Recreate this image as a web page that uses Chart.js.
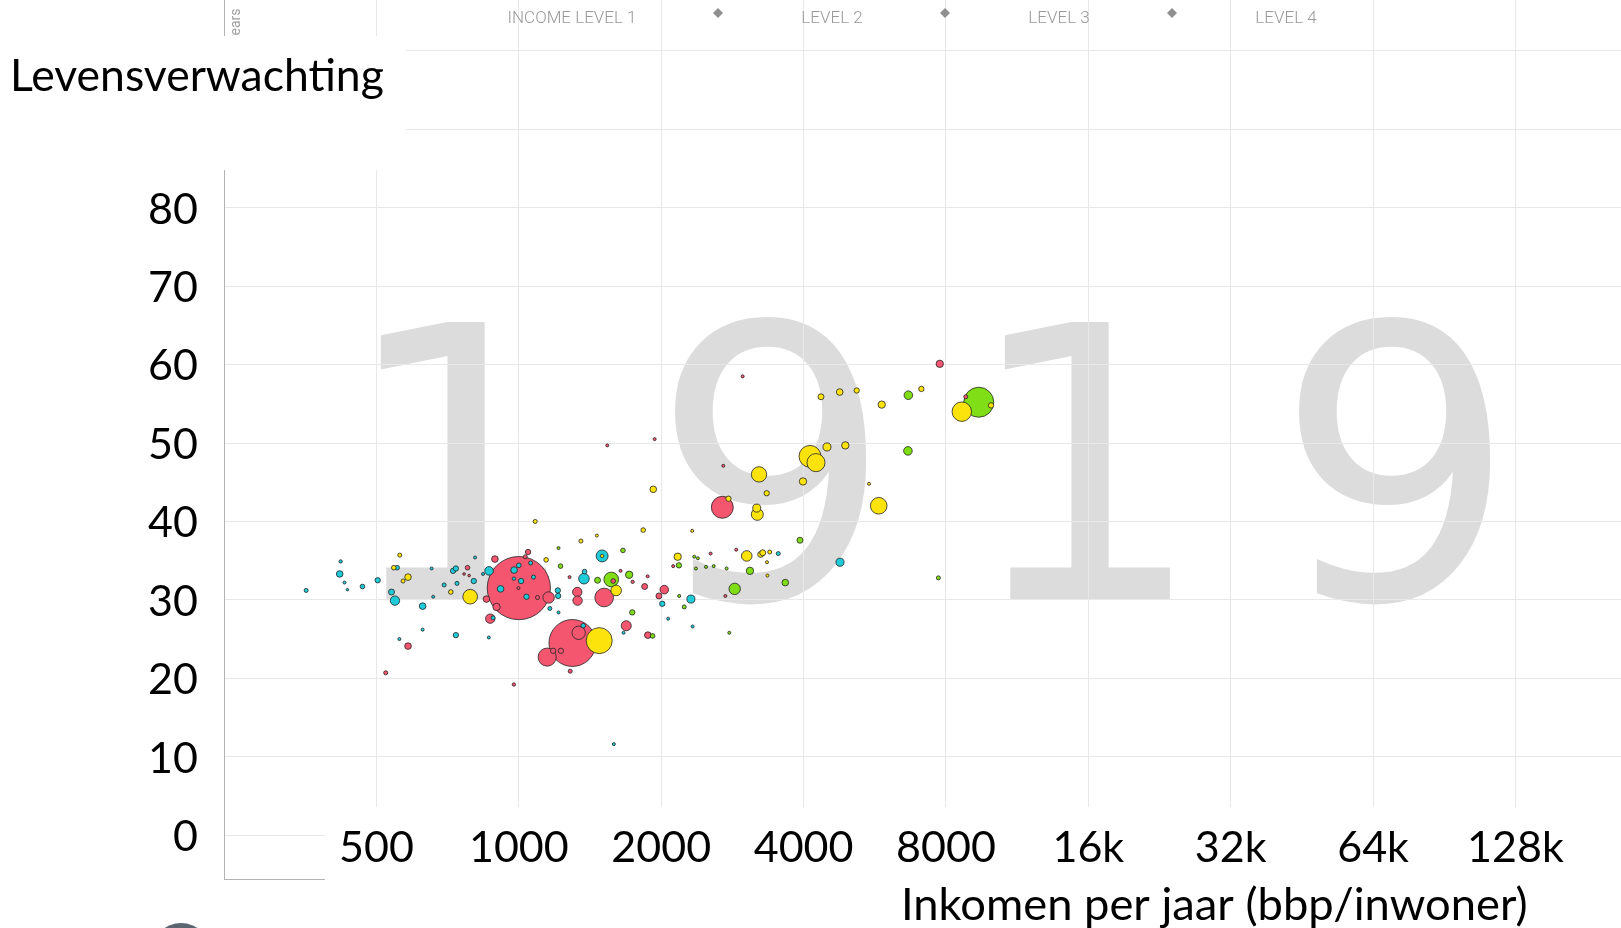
<!DOCTYPE html>
<html>
<head>
<meta charset="utf-8">
<title>Levensverwachting 1919</title>
<script src="https://cdn.jsdelivr.net/npm/chart.js@4.4.1/dist/chart.umd.min.js"></script>
<style>
  html, body { margin: 0; padding: 0; background: #fff; overflow: hidden; }
</style>
</head>
<body>
<canvas id="chart" width="1621" height="928"></canvas>
<script>
// axis ticks (income per person per year, doubling steps)
const xTickValues = [500, 1000, 2000, 4000, 8000, 16000, 32000, 64000, 128000];
const xTickLabels = ['500', '1000', '2000', '4000', '8000', '16k', '32k', '64k', '128k'];
const yTickValues = [0, 10, 20, 30, 40, 50, 60, 70, 80, 90, 100];
const yLabelMax = 80;
const yearText = '1919';
const incomeLevels = ['INCOME LEVEL 1', 'LEVEL 2', 'LEVEL 3', 'LEVEL 4'];

// Africa
const africaIncome = [355, 420, 418, 428, 434, 467, 503, 553, 538, 547, 626, 695, 740, 726, 736, 803, 865, 882, 736, 977,
  1000, 1011, 976, 915, 1038, 1059, 1074, 1209, 1211, 1163, 1500, 1373, 1377, 1368, 2010, 2311, 3536, 4776, 1588,
  654, 659, 626, 559, 808, 840, 864, 1213, 1665, 2069, 2330];
const africaLife = [31.2, 34.9, 33.3, 32.2, 31.3, 31.7, 32.5, 34.1, 31.0, 29.9, 29.2, 31.9, 32.1, 33.7, 34.0, 32.4, 33.7, 27.7, 25.5, 33.8,
  34.4, 32.4, 32.7, 31.4, 30.4, 34.7, 32.9, 31.2, 30.5, 28.9, 35.6, 32.7, 33.6, 26.7, 29.5, 30.1, 35.9, 34.8, 11.6,
  34.0, 30.4, 26.2, 25.0, 35.4, 33.3, 25.2, 28.4, 25.8, 27.6, 26.6];
const africaPop = [1.6, 1.1, 4.3, 0.9, 0.6, 2.1, 2.8, 2.1, 3.5, 8.6, 4.3, 1.6, 1.6, 2.8, 2.8, 2.8, 7.2, 1.6, 2.8, 4.3,
  2.1, 2.8, 1.1, 4.3, 2.8, 1.6, 1.6, 2.8, 2.8, 1.6, 14, 11, 2.1, 2.1, 2.8, 6.3, 1.6, 6.3, 0.9,
  0.9, 0.9, 0.9, 0.9, 0.9, 0.9, 0.9, 0.9, 0.9, 0.9, 0.9];

// Asia
const asiaIncome = [583, 523, 779, 766, 854, 890, 897, 870, 976, 1000, 1046, 1032, 998, 1095, 1156, 1329, 1331, 1583, 1515, 1740,
  1845, 2030, 1978, 1687, 1874, 1298, 1338, 1148, 1182, 1227, 1284, 2693, 7762, 8810, 785,
  1280, 1641, 1872, 2120, 2544, 2882, 2706, 2973, 1538, 1937, 2733];
const asiaLife = [24.1, 20.7, 34.1, 33.3, 30.1, 35.2, 29.1, 27.6, 19.2, 31.5, 36.1, 35.5, 31.5, 30.3, 30.3, 31.0, 29.9, 32.4, 30.3, 32.3,
  31.7, 31.3, 30.5, 26.7, 25.5, 24.5, 25.8, 22.7, 23.5, 23.5, 20.9, 41.8, 60.1, 55.9, 33.1,
  32.9, 33.7, 33.0, 34.3, 35.9, 36.4, 47.1, 58.5, 49.7, 50.5, 30.5];
const asiaPop = [4.3, 1.6, 2.1, 0.7, 4.3, 4.3, 5.3, 8.6, 1.1, 390, 2.8, 1.6, 0.9, 1.6, 12.7, 8.6, 8.6, 2.1, 34, 1.1,
  3.5, 7.2, 3.5, 9.8, 4.3, 215, 17.5, 32, 2.8, 2.8, 1.6, 47, 5.3, 1.6, 0.7,
  0.9, 0.9, 0.9, 0.9, 0.9, 0.9, 0.9, 0.9, 0.9, 0.9, 0.9];

// Americas
const americasIncome = [560, 544, 583, 569, 718, 789, 1142, 1083, 1353, 1500, 1606, 1479, 1832, 2167, 1924, 3220, 3988, 3342, 2775, 3184,
  3193, 5767, 3033, 3246, 3278, 3392, 4127, 4249, 4483, 4901, 4354, 4769, 5181, 5852, 7098, 8641, 9965,
  1462, 2326, 5501, 3347, 3354];
const americasLife = [35.7, 34.1, 32.9, 32.4, 31.0, 30.4, 35.1, 40.0, 37.5, 35.6, 31.2, 24.8, 38.9, 35.5, 44.1, 46.0, 45.1, 43.6, 42.9, 41.7,
  40.9, 42.0, 35.6, 35.8, 36.0, 36.1, 48.3, 47.5, 49.5, 49.7, 55.9, 56.5, 56.7, 54.9, 56.9, 54.0, 54.8,
  38.2, 38.8, 44.8, 34.8, 33.1];
const americasPop = [1.6, 2.1, 4.3, 1.6, 2.1, 21, 2.1, 1.6, 1.6, 1.1, 11, 66, 2.1, 5.3, 4.3, 23, 5.3, 2.8, 2.8, 6.3,
  14, 27, 11, 3.5, 3.5, 1.6, 47, 32, 6.3, 5.3, 3.5, 4.3, 2.8, 5.3, 2.8, 37, 2.8,
  0.9, 0.9, 0.9, 0.9, 0.9];

// Europe
const europeIncome = [1225, 1467, 1568, 1711, 1660, 1737, 1918, 2180, 2237, 2860, 3081, 3659, 3930, 6662, 6648, 9385, 7710,
  2349, 2391, 2786, 1213, 2368, 2487, 2582, 2750, 2183];
const europeLife = [34.3, 32.5, 32.6, 33.2, 36.3, 28.4, 25.4, 34.4, 29.1, 31.4, 33.7, 32.2, 37.6, 56.1, 49.0, 55.2, 32.8,
  35.5, 35.3, 25.8, 36.6, 34.0, 34.2, 34.3, 34.0, 30.5];
const europePop = [2.1, 3.5, 21, 5.3, 2.1, 2.8, 2.1, 2.8, 1.6, 12.7, 5.3, 4.3, 3.5, 7.2, 7.2, 88, 1.6,
  0.9, 0.9, 0.9, 0.9, 0.9, 0.9, 0.9, 0.9, 0.9];

const regions = [
  { income: africaIncome, life: africaLife, pop: africaPop, color: '#1fcbd9' },
  { income: asiaIncome, life: asiaLife, pop: asiaPop, color: '#f5566f' },
  { income: americasIncome, life: americasLife, pop: americasPop, color: '#fde30c' },
  { income: europeIncome, life: europeLife, pop: europePop, color: '#80de16' }
];

// bubble area ~ population (millions)
function popToRadius(pop) {
  return 1.6 * Math.sqrt(pop);
}

// one dataset, big bubbles first so the small ones stay on top
const points = [];
regions.forEach(reg => {
  reg.income.forEach((inc, i) => {
    points.push({ x: inc, y: reg.life[i], pop: reg.pop[i], color: reg.color });
  });
});
points.sort((a, b) => b.pop - a.pop);

const labelFont = { family: 'Lato', size: 43 };

// keep the plot area fixed, whatever size the tick labels have
function noScalePadding(scale) {
  scale.paddingTop = 0;
  scale.paddingBottom = 0;
  scale.paddingLeft = 0;
  scale.paddingRight = 0;
}

const slideOverlay = {
  id: 'slideOverlay',
  beforeDraw(chart) {
    const ctx = chart.ctx;
    ctx.save();
    ctx.fillStyle = '#dcdcdc';
    ctx.font = '380px "DejaVu Sans"';
    ctx.textAlign = 'center';
    ctx.textBaseline = 'alphabetic';
    yearText.split('').forEach((d, i) => ctx.fillText(d, 460 + i * 312, 599));
    ctx.restore();
  },
  beforeDatasetsDraw(chart) {
    const ctx = chart.ctx;
    ctx.save();
    // rotated axis name of the original chart, mostly hidden
    ctx.save();
    ctx.translate(240, 42);
    ctx.rotate(-Math.PI / 2);
    ctx.font = '14px Roboto';
    ctx.fillStyle = '#a0a0a0';
    ctx.textBaseline = 'alphabetic';
    ctx.fillText('years', 0, 0);
    ctx.restore();
    // white boxes of the slide
    ctx.fillStyle = '#ffffff';
    ctx.fillRect(0, 36, 406, 134);
    ctx.fillRect(325, 807, chart.width - 325, chart.height - 807);
    ctx.restore();
  },
  afterDraw(chart) {
    const ctx = chart.ctx;
    ctx.save();
    // income level header
    ctx.font = '300 17px Roboto';
    ctx.fillStyle = '#999999';
    ctx.textAlign = 'center';
    ctx.textBaseline = 'alphabetic';
    const levelX = [572, 832, 1059, 1286];
    incomeLevels.forEach((t, i) => ctx.fillText(t, levelX[i], 23));
    ctx.fillStyle = '#8f8f8f';
    [718, 945, 1172].forEach(x => {
      ctx.beginPath();
      ctx.moveTo(x, 8);
      ctx.lineTo(x + 5, 13);
      ctx.lineTo(x, 18);
      ctx.lineTo(x - 5, 13);
      ctx.closePath();
      ctx.fill();
    });
    // axis titles
    ctx.fillStyle = '#000';
    ctx.textAlign = 'left';
    ctx.font = '44.5px Lato';
    ctx.fillText('Levensverwachting', 10, 91);
    ctx.font = '45.3px Lato';
    ctx.fillText('Inkomen per jaar (bbp/inwoner)', 901, 920);
    // play button, cut by the page edge
    ctx.fillStyle = '#5b6670';
    ctx.beginPath();
    ctx.arc(181, 952, 29, 0, Math.PI * 2);
    ctx.fill();
    ctx.restore();
  }
};

new Chart(document.getElementById('chart'), {
  type: 'bubble',
  data: {
    datasets: [{
      data: points.map(p => ({ x: p.x, y: p.y, r: popToRadius(p.pop) })),
      backgroundColor: points.map(p => p.color),
      borderColor: 'rgba(35,35,35,0.8)',
      borderWidth: 1
    }]
  },
  options: {
    responsive: false,
    animation: false,
    events: [],
    devicePixelRatio: 1,
    layout: { padding: 0, autoPadding: false },
    plugins: {
      legend: { display: false },
      tooltip: { enabled: false }
    },
    scales: {
      x: {
        type: 'logarithmic',
        position: 'bottom',
        bounds: 'data',
        min: 238,
        max: 214000,
        afterBuildTicks: scale => { scale.ticks = xTickValues.map(v => ({ value: v })); },
        afterFit: scale => { scale.height = 49; noScalePadding(scale); },
        grid: { color: '#e8e8e8', drawTicks: false },
        border: { display: true, color: '#b3b3b3' },
        ticks: {
          z: 1,
          mirror: true,
          padding: 5,
          autoSkip: false,
          maxRotation: 0,
          color: '#000',
          font: labelFont,
          callback: v => {
            const i = xTickValues.indexOf(v);
            return i >= 0 ? xTickLabels[i] : '';
          }
        }
      },
      y: {
        type: 'linear',
        bounds: 'data',
        min: -5.6,
        max: 106.5,
        afterBuildTicks: scale => { scale.ticks = yTickValues.map(v => ({ value: v })); },
        afterFit: scale => { scale.width = 224; noScalePadding(scale); },
        grid: { color: '#e8e8e8', drawTicks: false },
        border: { display: true, color: '#b3b3b3' },
        ticks: {
          z: 1,
          padding: 26,
          labelOffset: 2,
          color: '#000',
          font: labelFont,
          callback: v => (v <= yLabelMax ? String(v) : '')
        }
      }
    }
  },
  plugins: [slideOverlay]
});
</script>
</body>
</html>
